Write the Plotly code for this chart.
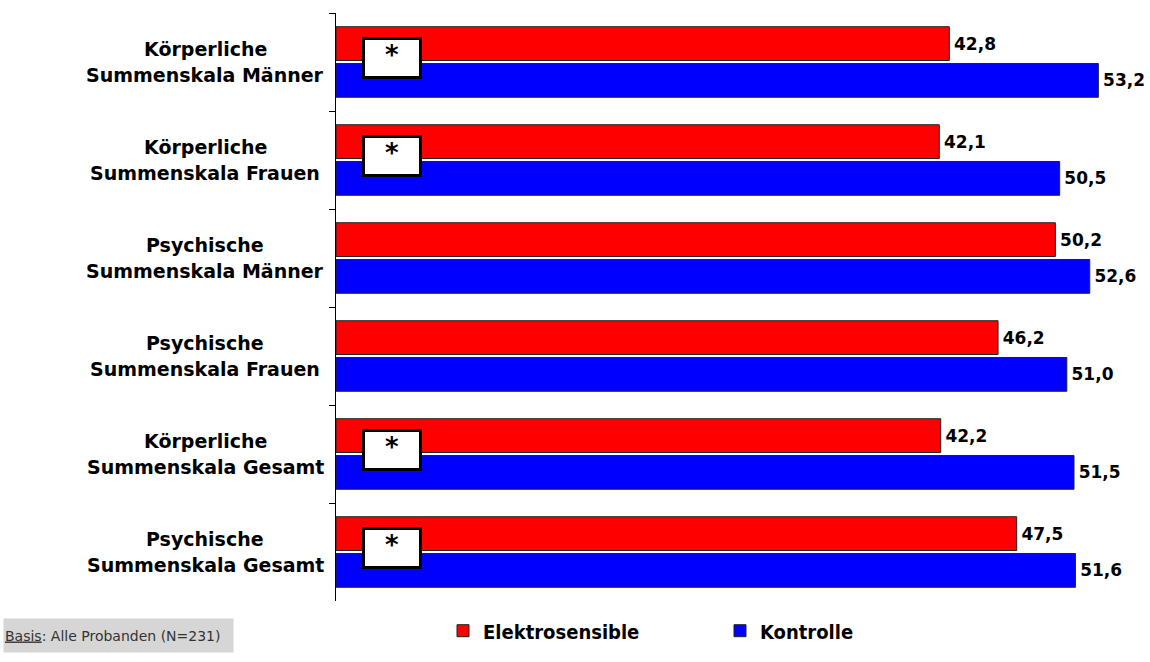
import plotly.graph_objects as go

categories = [
    "Körperliche<br>Summenskala Männer",
    "Körperliche<br>Summenskala Frauen",
    "Psychische<br>Summenskala Männer",
    "Psychische<br>Summenskala Frauen",
    "Körperliche<br>Summenskala Gesamt",
    "Psychische<br>Summenskala Gesamt",
]
elektrosensible = [42.8, 42.1, 50.2, 46.2, 42.2, 47.5]
kontrolle = [53.2, 50.5, 52.6, 51.0, 51.5, 51.6]
significant = [True, True, False, False, True, True]
series_names = ["Elektrosensible", "Kontrolle"]
note_text = "<u>Basis</u>: Alle Probanden (N=231)"

W, H = 1150, 662
ML, MR, MT, MB = 336, 12, 13, 55
PW = W - ML - MR
PH = H - MT - MB

fig = go.Figure()
for name, vals, col in [(series_names[0], elektrosensible, "#ff0000"),
                        (series_names[1], kontrolle, "#0000ff")]:
    fig.add_trace(go.Bar(
        y=categories, x=vals, name=name, orientation="h",
        marker=dict(color=col, line=dict(color="#222222", width=1)),
        texttemplate="\u200a%{x:.1f}", textposition="outside",
        textfont=dict(family="DejaVu Sans", size=17, color="black", weight="bold"),
        cliponaxis=False, hoverinfo="skip",
    ))

annotations = []
for c in categories:
    lines = c.split("<br>")
    for i, ln in enumerate(lines):
        annotations.append(dict(
            x=(205 - ML) / PW, xref="paper", y=c, yref="y",
            yshift=13 - 26 * i,
            text=ln, showarrow=False, xanchor="center", yanchor="middle",
            font=dict(family="DejaVu Sans", size=19, color="black", weight="bold"),
        ))
for c, s in zip(categories, significant):
    if s:
        annotations.append(dict(
            x=(392 - ML) / PW, xref="paper", y=c, yref="y", yshift=4,
            text="<b>*</b>", showarrow=False, xanchor="center", yanchor="middle",
            width=54, height=36, bgcolor="white", bordercolor="black", borderwidth=3,
            borderpad=0, valign="top",
            font=dict(family="DejaVu Sans", size=26, color="black"),
        ))
annotations.append(dict(
    x=(3 - ML) / PW, xref="paper", y=(MT + PH - 641.5) / PH, yref="paper",
    text=note_text, showarrow=False, xanchor="left", yanchor="middle",
    width=227, height=31, bgcolor="#d6d6d6", align="left",
    font=dict(family="DejaVu Sans", size=14, color="#333333"),
))

fig.update_layout(
    width=W, height=H,
    margin=dict(l=ML, r=MR, t=MT, b=MB),
    paper_bgcolor="white", plot_bgcolor="white",
    barmode="group", bargap=0.25, bargroupgap=0.08,
    separators=",.",
    showlegend=True,
    legend=dict(
        orientation="h", x=(443 - ML) / PW, xanchor="left",
        y=(MT + PH - 637) / PH, yanchor="middle",
        font=dict(family="DejaVu Sans Condensed, DejaVu Sans", size=20, color="black", weight="bold"),
        entrywidth=232, entrywidthmode="pixels", itemclick=False,
        bgcolor="rgba(0,0,0,0)",
    ),
    xaxis=dict(range=[0, PW / 14.33], visible=False, fixedrange=True),
    yaxis=dict(
        autorange="reversed", showticklabels=False, showline=True,
        linecolor="black", linewidth=1, ticks="outside", tickson="boundaries",
        ticklen=6, tickcolor="black", showgrid=False, zeroline=False,
        fixedrange=True,
    ),
    annotations=annotations,
)

fig.write_html("out.html", config={"displayModeBar": False},
               post_script="document.body.style.margin='0';document.body.style.padding='0';")
